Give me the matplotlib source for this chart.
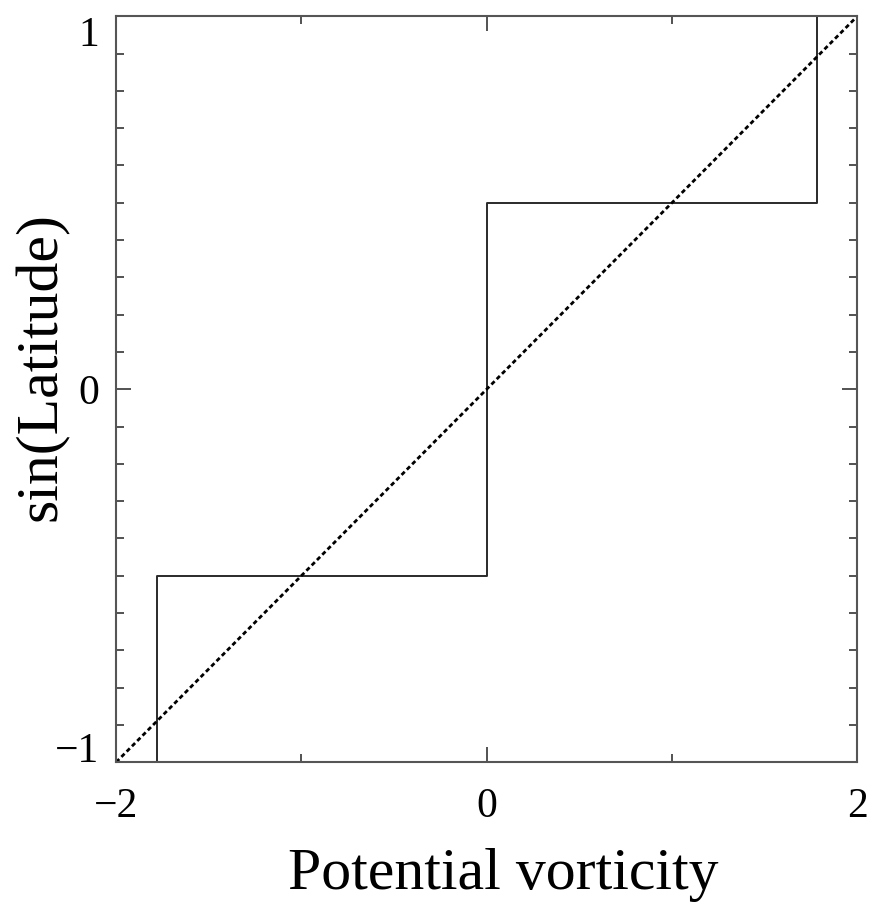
import numpy as np
import matplotlib
matplotlib.use("Agg")
import matplotlib.pyplot as plt
from matplotlib.ticker import MultipleLocator

plt.rcParams["font.family"] = ["Liberation Serif", "DejaVu Serif"]

# staircase profile: PV against sin(latitude)
step_x = [-1.78, -1.78, 0.0, 0.0, 1.78, 1.78]
step_y = [-1.0, -0.5, -0.5, 0.5, 0.5, 1.0]

# linear reference profile
line_x = [-2.0, 2.0]
line_y = [-1.0, 1.0]

x_ticks = [-2, 0, 2]
y_ticks = [-1, 0, 1]

fig = plt.figure(figsize=(8.73, 9.02), dpi=100)
ax = fig.add_axes([0.133, 0.155, 0.849, 0.827])

ax.plot(step_x, step_y, "-", color="#2a2a2a", lw=1.4)
ax.plot(line_x, line_y, color="black", lw=2.0,
        linestyle=(0, (1.6, 1.1)))

ax.set_xlim(-2, 2)
ax.set_ylim(-1, 1)

ax.set_xticks(x_ticks)
ax.set_yticks(y_ticks)
ax.set_xticklabels(["\u22122", "0", "2"])
ax.set_yticklabels(["\u22121", "0", "1"])
ax.xaxis.set_minor_locator(MultipleLocator(1))
ax.yaxis.set_minor_locator(MultipleLocator(0.1))

ax.tick_params(which="both", direction="in", top=True, right=True,
               color="#444444", width=1.3)
ax.tick_params(which="major", length=11, labelsize=30)
ax.tick_params(which="minor", length=6)
ax.tick_params(axis="x", which="major", pad=18)
ax.tick_params(axis="y", which="major", pad=12)

for s in ax.spines.values():
    s.set_color("#555555")
    s.set_linewidth(1.5)

# keep the end labels inside the frame, as in the original
ylabs = ax.get_yticklabels()
ylabs[0].set_va("baseline")
ylabs[-1].set_va("top")

ax.set_xlabel("Potential vorticity", fontsize=43)
ax.set_ylabel("sin(Latitude)", fontsize=43)
ax.xaxis.set_label_coords(0.523, -0.115)
ax.yaxis.set_label_coords(-0.064, 0.53)

fig.savefig("out.png", dpi=100, facecolor="white")
